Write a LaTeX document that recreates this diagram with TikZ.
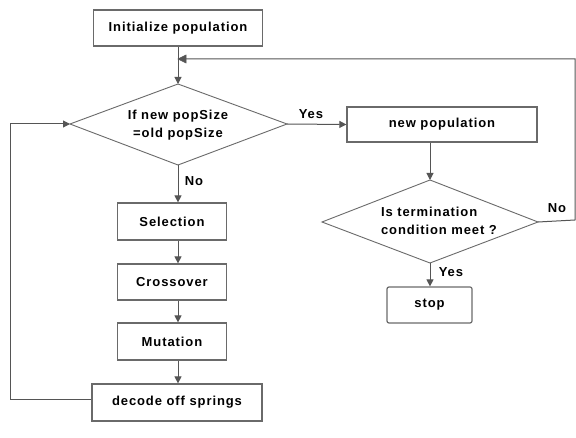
\documentclass[tikz,border=0pt]{standalone}
\usepackage{fontspec}
\setmainfont{Liberation Sans}
\newfontfamily\dfont{Liberation Sans}[LetterSpace=7]
\usetikzlibrary{shapes.geometric,arrows.meta}
\definecolor{linegray}{HTML}{555555}
\definecolor{boxgray}{HTML}{6A6A6A}
\newcommand{\dtext}{\dfont\bfseries\fontsize{13}{18}\selectfont}
\begin{document}
\begin{tikzpicture}[x=1pt,y=-1pt,
  box/.style={draw=boxgray,line width=1.2pt,fill=white,inner sep=0pt,font=\dtext},
  arr/.style={draw=linegray,line width=1pt,-{Triangle[length=7pt,width=7pt]}},
  ln/.style={draw=linegray,line width=1pt},
  lab/.style={font=\dtext,inner sep=1pt}]
\useasboundingbox (0,0) rectangle (576,438);
\fill[white] (0,0) rectangle (576,438);
% nodes
\node[box,minimum width=169pt,minimum height=36pt] (init) at (178,28) {Initialize population};
\path[draw=boxgray,line width=0.9pt,fill=white] (70,124) -- (178,84) -- (287,124) -- (178,165) -- cycle;
\node[align=center,font=\dtext,inner sep=0pt] (d1) at (178,125) {If new popSize\\=old popSize};
\coordinate (d1t) at (178,84);
\coordinate (d1l) at (70,124);
\coordinate (d1r) at (287,124);
\coordinate (d1b) at (178,165);
\node[box,minimum width=109pt,minimum height=37pt] (sel) at (172,221.5) {Selection};
\node[box,minimum width=109pt,minimum height=36pt] (cro) at (172,282) {Crossover};
\node[box,minimum width=109pt,minimum height=37pt] (mut) at (172,341.5) {Mutation};
\node[box,minimum width=170pt,minimum height=37pt] (dec) at (177,402.5) {decode off springs};
\node[box,minimum width=190pt,minimum height=35pt] (newp) at (442,124.5) {new population};
\path[draw=boxgray,line width=0.9pt,fill=white] (322,222) -- (430,180) -- (538,222) -- (430,263) -- cycle;
\node[align=left,font=\dtext,inner sep=0pt] (d2) at (439,221) {Is termination\\condition meet ?};
\coordinate (d2t) at (430,180);
\coordinate (d2r) at (538,222);
\coordinate (d2b) at (430,263);
\node[box,rounded corners=2pt,minimum width=85pt,minimum height=36pt] (stop) at (429.5,305) {stop};
% connectors
\draw[arr] (init) -- (d1t);
\draw[arr] (d1b) -- (sel.north -| d1b);
\draw[arr] (sel.south -| d1b) -- (cro.north -| d1b);
\draw[arr] (cro.south -| d1b) -- (mut.north -| d1b);
\draw[arr] (mut.south -| d1b) -- (dec.north -| d1b);
\coordinate (lx) at (10,400);
\draw[ln] (dec.west |- lx) -- (lx) -- (10,124) coordinate (lt);
\draw[arr] (lt) -- (d1l);
\draw[arr] (d1r) -- (newp.west);
\draw[arr] (newp.south -| d2t) -- (d2t);
\draw[arr] (d2b) -- (stop.north -| d2b);
\coordinate (rc) at (575,220);
\coordinate (rt) at (575,59);
\coordinate (fb) at (178,59);
\draw[ln] (d2r) -- (rc) -- (rt) -- (fb);
\path[draw=linegray,fill=linegray,line width=0.5pt] (fb) -- ++(8,-4) -- ++(0,8) -- cycle;
% labels
\node[lab] (y1) at (311,114) {Yes};
\node[lab] (n1) at (194,181) {No};
\node[lab] (y2) at (451,272) {Yes};
\node[lab] (n2) at (557,208) {No};
\end{tikzpicture}
\end{document}
